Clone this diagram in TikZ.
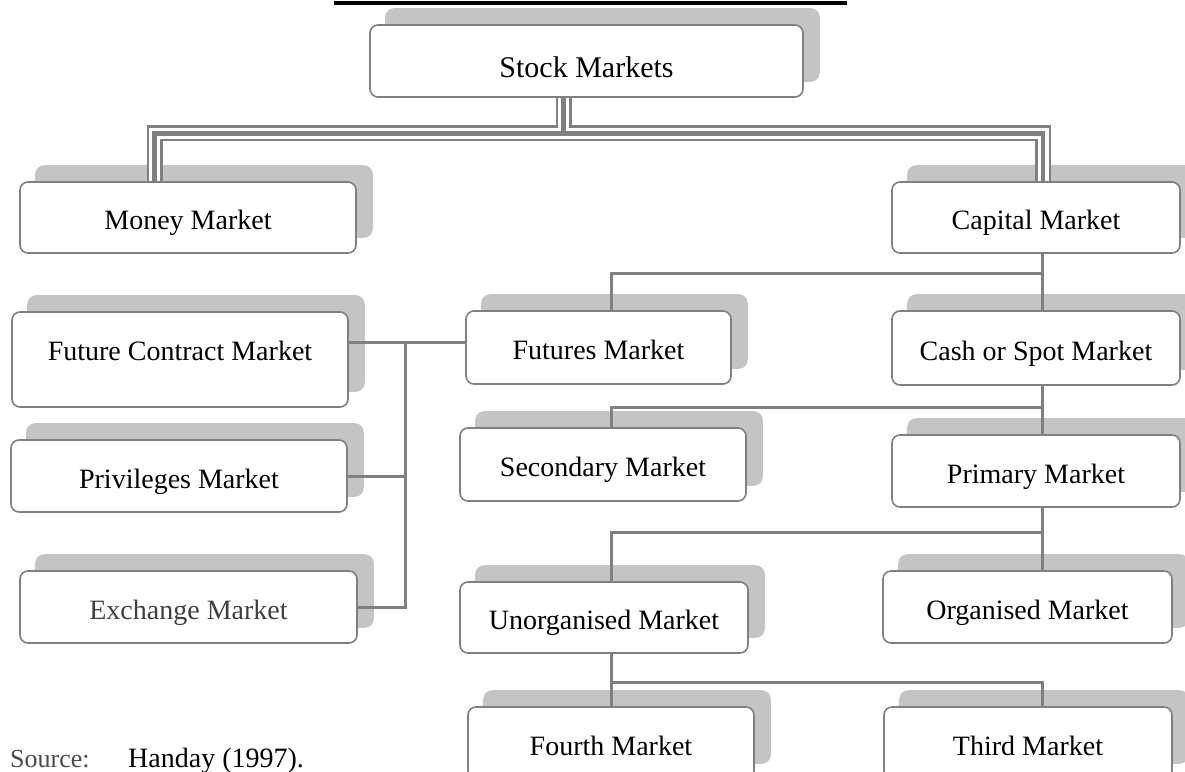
\documentclass[tikz,border=0pt]{standalone}
\usepackage{fontspec}
\setmainfont{Liberation Serif}
\definecolor{boxgray}{RGB}{128,128,128}
\definecolor{linegray}{RGB}{128,128,128}
\definecolor{shadgray}{RGB}{196,196,196}
\pgfdeclarelayer{bg}
\pgfdeclarelayer{shad}
\pgfdeclarelayer{conn}
\pgfsetlayers{bg,shad,conn,main}
\begin{document}
\begin{tikzpicture}[x=1pt,y=-1pt,
  mbox/.style={draw=boxgray,line width=1.6pt,rounded corners=8pt,fill=white,inner sep=0pt,
    minimum height=72pt,text height=26pt,text depth=2pt,font=\fontsize{28}{32}\selectfont},
  conn/.style={draw=linegray,line width=3pt,line join=miter},
  srcfont/.style={font=\fontsize{28}{32}\selectfont}]
\begin{pgfonlayer}{bg}
\fill[white] (0,0) rectangle (1185,771);
\end{pgfonlayer}
\useasboundingbox (0,0) rectangle (1185,771);
% title underline
\draw[line width=3.5pt,black] (334,3) -- (847,3);
% boxes
\node[mbox,minimum width=433pt,text height=32pt,text depth=0pt,font=\fontsize{30}{34}\selectfont] (stock) at (586.5,61) {Stock Markets};
\node[mbox,minimum width=336pt,minimum height=71pt] (money) at (188,217.5) {Money Market};
\node[mbox,minimum width=288pt,minimum height=71pt] (cap) at (1036,217.5) {Capital Market};
\node[mbox,minimum width=336pt,minimum height=95pt,text height=20pt,text depth=19pt] (fcm) at (180,359.5) {Future Contract Market};
\node[mbox,minimum width=336pt] (priv) at (179,476) {Privileges Market};
\node[mbox,minimum width=337pt,text=black!75] (exch) at (188.5,607) {Exchange Market};
\node[mbox,minimum width=265pt,minimum height=73pt] (fut) at (598.5,347.5) {Futures Market};
\node[mbox,minimum width=288pt,minimum height=74pt] (cash) at (1036,348) {Cash or Spot Market};
\node[mbox,minimum width=286pt,minimum height=73pt] (sec) at (603,464.5) {Secondary Market};
\node[mbox,minimum width=288pt] (prim) at (1036,471) {Primary Market};
\node[mbox,minimum width=288pt,minimum height=71pt] (unorg) at (604,617.5) {Unorganised Market};
\node[mbox,minimum width=289pt] (org) at (1027.5,607) {Organised Market};
\node[mbox,minimum width=286pt] (fourth) at (611,743) {Fourth Market};
\node[mbox,minimum width=288pt] (third) at (1028,743) {Third Market};
% source
\node[anchor=base west,inner sep=0pt,font=\fontsize{26}{30}\selectfont,text=black!70] (srclab) at (10,767) {Source:};
\node[anchor=base west,inner sep=0pt,srcfont] (srcref) at (128,767) {Handay (1997).};
% shadows
\begin{pgfonlayer}{shad}
\foreach \n in {stock,money,cap,fcm,priv,exch,fut,cash,sec,prim,unorg,org,fourth,third}
  \fill[shadgray,rounded corners=9pt] ([shift={(16pt,16pt)}]\n.south west) rectangle ([shift={(16pt,16pt)}]\n.north east);
\end{pgfonlayer}
% connectors
\begin{pgfonlayer}{conn}
\coordinate (tj) at (563.5,133.3);
\coordinate (xm) at (154.5,0);
\coordinate (xc) at (1043,0);
\foreach \w/\c in {16/linegray,11/white,4.5/linegray}{
  \draw[line width=\w pt,draw=\c,line join=miter] (stock.south -| tj) -- (tj) -| (money.north -| xm);
  \draw[line width=\w pt,draw=\c,line join=miter] (stock.south -| tj) -- (tj) -| (cap.north -| xc);
}
\coordinate (xl) at (611,0);
\coordinate (xr) at (1042,0);
\coordinate (j1) at (1042,273);
\coordinate (j2) at (1042,407);
\coordinate (j3) at (1042,532);
\coordinate (j4) at (611,682);
\coordinate (j5) at (405,342);
\draw[conn] (cap.south -| j1) -- (j1) -| (fut.north -| xl);
\draw[conn] (j1) -- (cash.north -| j1);
\draw[conn] (cash.south -| j2) -- (j2) -| (sec.north -| xl);
\draw[conn] (j2) -- (prim.north -| j2);
\draw[conn] (prim.south -| j3) -- (j3) -| (unorg.north -| xl);
\draw[conn] (j3) -- (org.north -| j3);
\draw[conn] (unorg.south -| j4) -- (j4) -| (third.north -| xr);
\draw[conn] (j4) -- (fourth.north -| j4);
\draw[conn] (fcm.east |- j5) -- (fut.west |- j5);
\draw[conn] (j5) |- (exch.east);
\draw[conn] (j5 |- priv.east) -- (priv.east);
\end{pgfonlayer}
\end{tikzpicture}
\end{document}
